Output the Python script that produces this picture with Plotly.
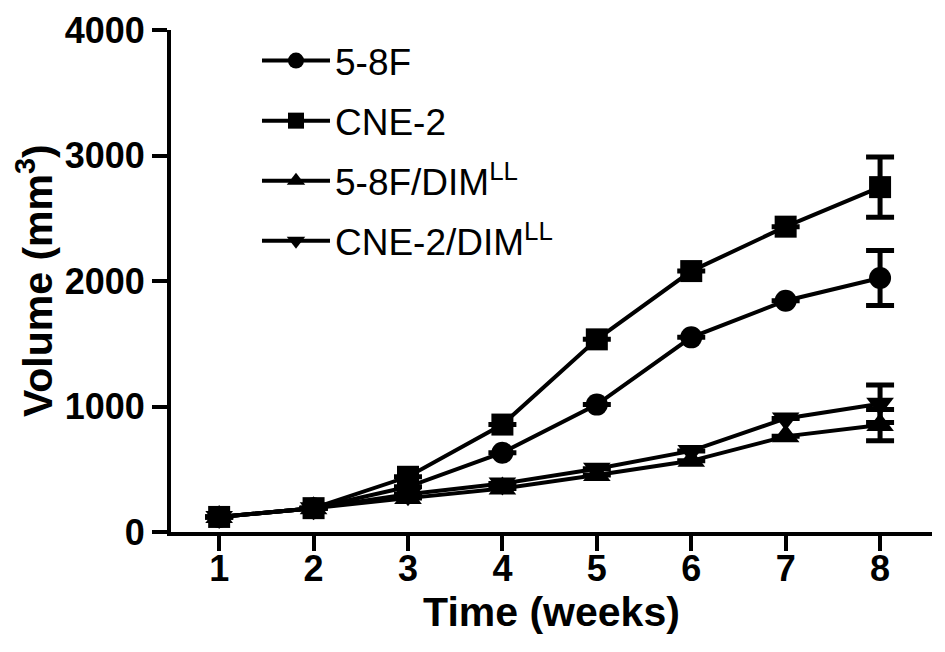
import plotly.graph_objects as go

# 肿瘤体积随时间变化
weeks = [1, 2, 3, 4, 5, 6, 7, 8]
names = ['5-8F', 'CNE-2', '5-8F/DIM<sup>LL</sup>', 'CNE-2/DIM<sup>LL</sup>']
vol_58f = [120, 190, 360, 632, 1015, 1551, 1843, 2024]
vol_cne2 = [120, 190, 440, 856, 1535, 2079, 2433, 2748]
vol_58f_dim = [120, 190, 270, 346, 455, 567, 762, 852]
vol_cne2_dim = [120, 190, 300, 386, 504, 646, 905, 1022]
err_58f = [0, 0, 0, 0, 0, 0, 0, 220]
err_cne2 = [0, 0, 0, 0, 0, 0, 0, 240]
err_58f_dim = [0, 0, 0, 0, 0, 0, 0, 125]
err_cne2_dim = [0, 0, 0, 0, 0, 0, 0, 150]

series = [
    (vol_58f, err_58f, 'circle', 22),
    (vol_cne2, err_cne2, 'square', 22),
    (vol_58f_dim, err_58f_dim, 'triangle-up', 24),
    (vol_cne2_dim, err_cne2_dim, 'triangle-down', 24),
]

fig = go.Figure()
for i, (vals, errs, sym, sz) in enumerate(series):
    fig.add_trace(go.Scatter(
        x=weeks, y=vals, name=names[i], legendgroup=str(i),
        mode='lines+markers',
        line=dict(color='black', width=4),
        marker=dict(symbol=sym, size=sz, color='black'),
        error_y=dict(type='data', array=errs, visible=True,
                     color='black', thickness=5, width=14),
    ))

tick_font = dict(family='Liberation Sans', size=36, color='black', weight='bold')
title_font = dict(family='Liberation Sans', size=41, color='black', weight='bold')

# y轴标题用注释放置
fig.add_annotation(
    text='Volume (mm<sup>3</sup>)', textangle=-90,
    xref='paper', yref='paper', x=0, y=0.5, xanchor='center', yanchor='middle',
    xshift=-136, showarrow=False, font=title_font,
)

fig.update_layout(
    width=945, height=652,
    margin=dict(l=163, r=21, t=22, b=128),
    plot_bgcolor='white', paper_bgcolor='white',
    showlegend=True,
    legend=dict(x=0.113, y=1.0, xanchor='left', yanchor='top',
                font=dict(family='Liberation Sans', size=37, color='black'),
                tracegroupgap=9, itemwidth=68, bgcolor='rgba(0,0,0,0)'),
    xaxis=dict(
        range=[0.49, 8.55], tickvals=weeks, ticktext=[str(w) for w in weeks],
        showline=True, linecolor='black', linewidth=4, showgrid=False, zeroline=False,
        ticks='outside', ticklen=15, tickwidth=4, tickcolor='black',
        tickfont=tick_font, automargin=False, ticklabelstandoff=-13,
        title=dict(text='Time (weeks)', font=title_font, standoff=4),
    ),
    yaxis=dict(
        range=[0, 4000], tickvals=[0, 1000, 2000, 3000, 4000],
        showline=True, linecolor='black', linewidth=4, showgrid=False, zeroline=False,
        ticks='outside', ticklen=15, tickwidth=4, tickcolor='black',
        tickfont=tick_font, automargin=False, ticklabeloverflow='allow',
    ),
)
fig.write_html('out.html')
